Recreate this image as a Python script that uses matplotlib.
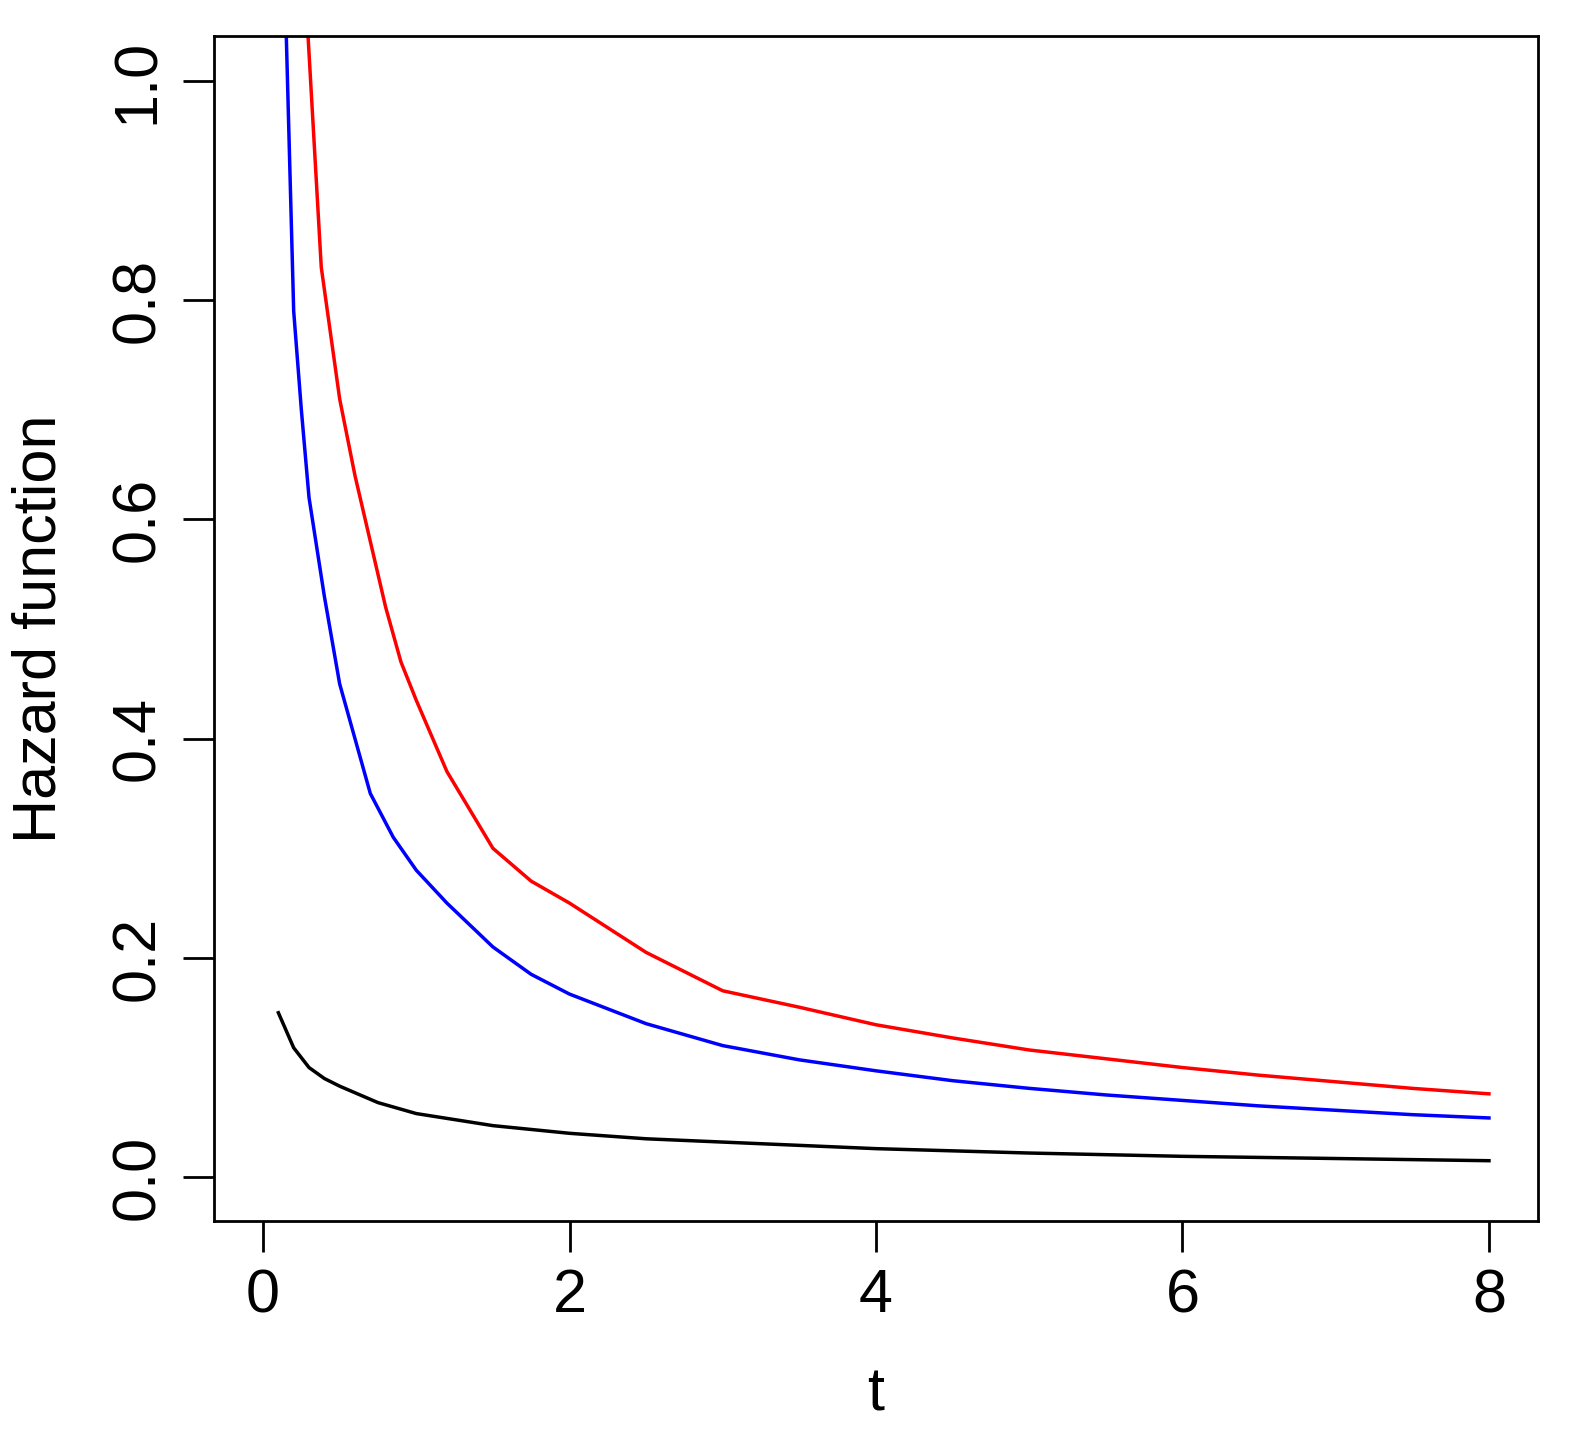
import matplotlib
matplotlib.use("Agg")
import matplotlib.pyplot as plt

t_red = [0.29, 0.38, 0.5, 0.6, 0.7, 0.8, 0.9, 1.0, 1.2, 1.5, 1.75, 2.0, 2.5, 3.0, 3.5, 4.0, 4.5, 5.0, 5.5, 6.0, 6.5, 7.0, 7.5, 8.0]
h_red = [1.05, 0.83, 0.71, 0.64, 0.58, 0.52, 0.47, 0.435, 0.37, 0.30, 0.27, 0.25, 0.205, 0.17, 0.155, 0.139, 0.127, 0.116, 0.108, 0.10, 0.093, 0.087, 0.081, 0.076]
t_blue = [0.15, 0.2, 0.25, 0.3, 0.4, 0.5, 0.6, 0.7, 0.85, 1.0, 1.2, 1.5, 1.75, 2.0, 2.5, 3.0, 3.5, 4.0, 4.5, 5.0, 5.5, 6.0, 6.5, 7.0, 7.5, 8.0]
h_blue = [1.05, 0.79, 0.70, 0.62, 0.53, 0.45, 0.40, 0.35, 0.31, 0.28, 0.25, 0.21, 0.185, 0.167, 0.14, 0.12, 0.107, 0.097, 0.088, 0.081, 0.075, 0.07, 0.065, 0.061, 0.057, 0.054]
t_black = [0.1, 0.2, 0.3, 0.4, 0.5, 0.75, 1.0, 1.5, 2.0, 2.5, 3.0, 3.5, 4.0, 5.0, 6.0, 7.0, 8.0]
h_black = [0.15, 0.118, 0.1, 0.09, 0.083, 0.068, 0.058, 0.047, 0.04, 0.035, 0.032, 0.029, 0.026, 0.022, 0.019, 0.017, 0.015]

plt.rcParams['font.family'] = ['Liberation Sans', 'DejaVu Sans']
fig = plt.figure(figsize=(15.96, 14.39), dpi=100)
ax = fig.add_axes([214/1596, 1 - 1221/1439, (1538-214)/1596, (1221-36)/1439])
ax.plot(t_black, h_black, color='black', lw=2.5)
ax.plot(t_blue, h_blue, color='blue', lw=2.5)
ax.plot(t_red, h_red, color='red', lw=2.5)
ax.set_xlim(-0.32, 8.32)
ax.set_ylim(-0.04, 1.041)
ax.set_xticks([0, 2, 4, 6, 8])
ax.set_yticks([0.0, 0.2, 0.4, 0.6, 0.8, 1.0])
ax.set_yticklabels(['0.0', '0.2', '0.4', '0.6', '0.8', '1.0'], rotation=90, va='center')
ax.tick_params(labelsize=44, length=22, width=2, pad=12)
for s in ax.spines.values():
    s.set_linewidth(2)
ax.set_xlabel('t', fontsize=44, labelpad=30)
ax.set_ylabel('Hazard function', fontsize=44, labelpad=30)
fig.savefig('out.png', dpi=100)
